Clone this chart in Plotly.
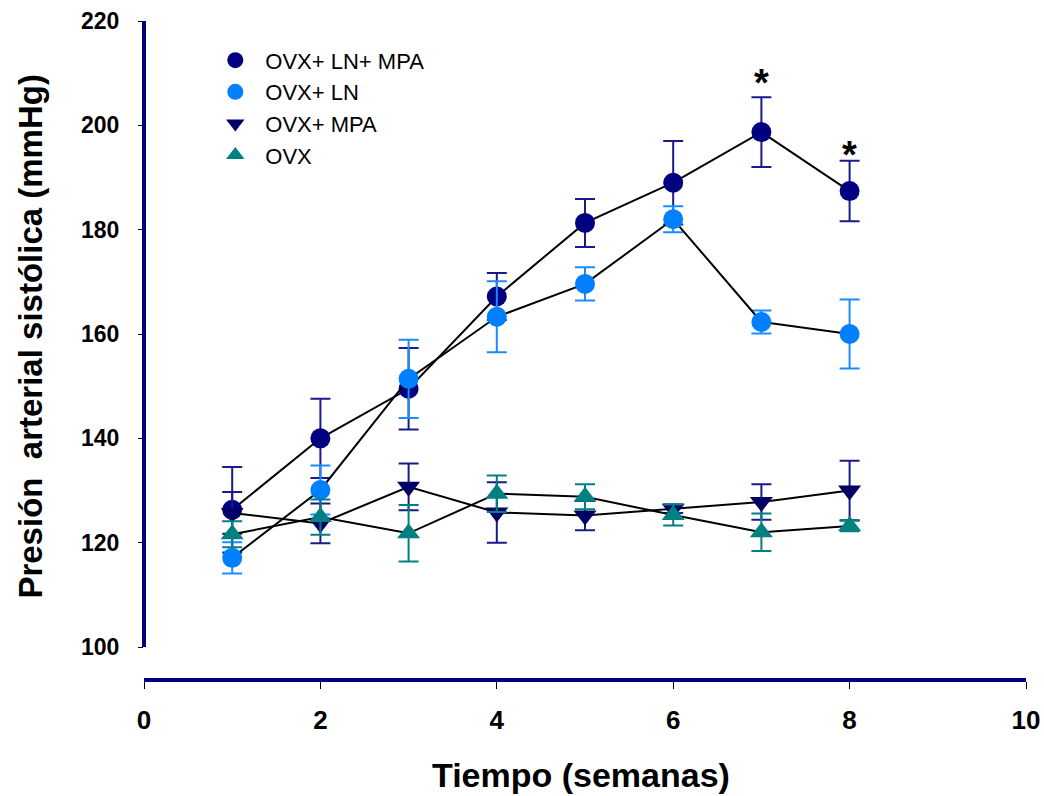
import plotly.graph_objects as go

weeks = [1, 2, 3, 4, 5, 6, 7, 8]

ovx_ln_mpa = [126.3, 140.0, 149.5, 167.2, 181.3, 189.0, 198.7, 187.4]
ovx_ln_mpa_err = [8.2, 7.6, 7.8, 4.5, 4.6, 8.0, 6.7, 5.8]

ovx_ln = [117.1, 130.1, 151.4, 163.3, 169.6, 182.0, 162.3, 160.0]
ovx_ln_err = [3.0, 4.7, 7.5, 6.8, 3.2, 2.5, 2.2, 6.6]

ovx_mpa = [125.7, 123.7, 130.7, 125.8, 125.2, 126.5, 127.8, 130.0]
ovx_mpa_err = [4.0, 3.8, 4.5, 5.8, 2.8, 0.8, 3.4, 5.7]

ovx = [121.6, 124.9, 121.8, 129.4, 128.8, 125.3, 122.0, 123.2]
ovx_err = [2.5, 3.4, 5.4, 3.5, 2.4, 2.0, 3.6, 1.0]

x_ticks = [0, 2, 4, 6, 8, 10]
y_ticks = [100, 120, 140, 160, 180, 200, 220]

sig_weeks = [7, 8]
sig_y = [208.2, 194.4]

FONT = "Liberation Sans, Arial, Helvetica, sans-serif"

series = [
    ("OVX+ LN+ MPA", ovx_ln_mpa, ovx_ln_mpa_err, "circle", "#000080", "#1a1a8a"),
    ("OVX+ LN", ovx_ln, ovx_ln_err, "circle", "#0080FF", "#1a8cff"),
    ("OVX+ MPA", ovx_mpa, ovx_mpa_err, "triangle-down", "#000066", "#1a1a8a"),
    ("OVX", ovx, ovx_err, "triangle-up", "#008080", "#008080"),
]

fig = go.Figure()

for name, vals, errs, sym, col, ecol in series:
    fig.add_trace(go.Scatter(
        x=weeks, y=vals, mode="lines+markers", name=name, showlegend=False,
        line=dict(color="black", width=2),
        marker=dict(symbol=sym, size=20, color=col, line=dict(width=0)),
        error_y=dict(type="data", array=errs, visible=True, color=ecol,
                     thickness=2, width=10),
    ))

for name, vals, errs, sym, col, ecol in series:
    fig.add_trace(go.Scatter(
        x=[None], y=[None], mode="markers", name=name, showlegend=True,
        marker=dict(symbol=sym, size=20, color=col, line=dict(width=0)),
    ))

# detached y-axis line
fig.add_shape(type="line", xref="paper", yref="y", x0=0, x1=0,
              y0=y_ticks[0], y1=y_ticks[-1],
              line=dict(color="#000080", width=4), layer="above")

for wx, wy in zip(sig_weeks, sig_y):
    fig.add_annotation(x=wx, y=wy, text="<b>*</b>", showarrow=False,
                       font=dict(family=FONT, size=38, color="black"),
                       xanchor="center", yanchor="middle")

fig.add_annotation(xref="paper", yref="paper", x=0.496, y=-0.147,
                   text="<b>Tiempo (semanas)</b>", showarrow=False,
                   font=dict(family=FONT, size=34, color="black"),
                   xanchor="center", yanchor="middle")
fig.add_annotation(xref="paper", yref="paper", x=-0.129, y=0.52,
                   text="<b>Presión\u00a0 arterial sistólica (mmHg)</b>",
                   textangle=-90, showarrow=False,
                   font=dict(family=FONT, size=33, color="black"),
                   xanchor="center", yanchor="middle")

fig.update_layout(
    width=1044, height=796, autosize=False,
    margin=dict(l=144, r=18, t=21, b=118),
    paper_bgcolor="white", plot_bgcolor="white",
    font=dict(family=FONT, color="black"),
    legend=dict(x=0.0695, y=0.972, xanchor="left", yanchor="top",
                font=dict(family=FONT, size=22, color="black"),
                bgcolor="rgba(0,0,0,0)", tracegroupgap=0, itemwidth=50),
    xaxis=dict(range=[0, 10], tickvals=x_ticks, ticktext=[str(v) for v in x_ticks],
               showgrid=False, zeroline=False, showline=True, automargin=False,
               linecolor="#000080", linewidth=4,
               ticks="outside", ticklen=7, tickwidth=1, tickcolor="black",
               tickfont=dict(family=FONT, size=26, color="black", weight="bold"),
               ticklabelstandoff=9),
    yaxis=dict(range=[94.06, 220], tickvals=y_ticks, ticktext=[str(v) for v in y_ticks],
               showgrid=False, zeroline=False, showline=False, automargin=False,
               ticks="outside", ticklen=5, tickwidth=1, tickcolor="black",
               tickfont=dict(family=FONT, size=23, color="black", weight="bold"),
               ticklabelstandoff=14),
)

fig.write_html("out.html", config={"displayModeBar": False},
               post_script="document.body.style.margin='0';document.body.style.overflow='hidden';")
